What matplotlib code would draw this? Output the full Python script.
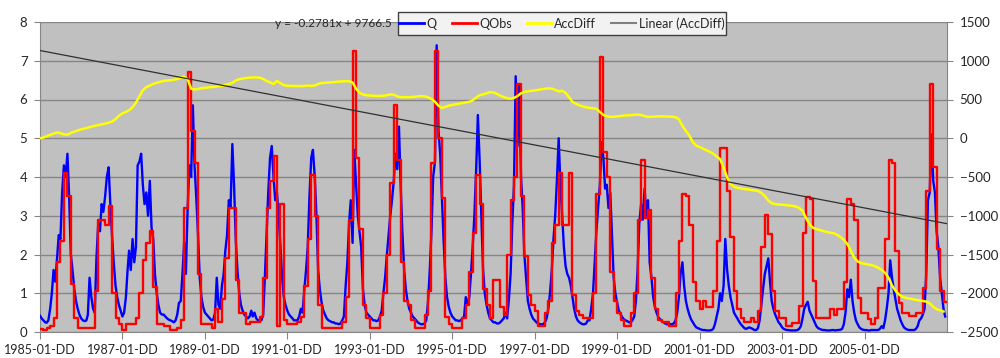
import datetime as dt
import matplotlib
matplotlib.use("Agg")
import matplotlib.pyplot as plt
import matplotlib.dates as mdates
from matplotlib.lines import Line2D
from matplotlib.patches import Rectangle

# ---------------- data ----------------
start_year = 1985
n_years = 22

# observed discharge, monthly values (one row per year)
qobs_rows = [
    [0.08, 0.05, 0.1, 0.15, 0.35, 1.8, 2.35, 4.1, 3.5, 1.25, 0.35, 0.1],
    [0.1, 0.1, 0.1, 0.1, 1.05, 2.9, 2.9, 2.75, 3.25, 1.0, 0.35, 0.2],
    [0.05, 0.2, 0.2, 0.2, 0.35, 1.0, 1.85, 2.3, 2.6, 1.15, 0.2, 0.2],
    [0.15, 0.15, 0.05, 0.05, 0.1, 0.3, 3.2, 6.7, 5.2, 4.35, 1.5, 0.2],
    [0.2, 0.2, 0.1, 0.6, 0.25, 0.85, 1.9, 3.2, 3.2, 1.35, 0.5, 0.5],
    [0.2, 0.25, 0.25, 0.25, 0.4, 1.4, 3.2, 3.9, 4.55, 0.15, 3.3, 0.3],
    [0.2, 0.2, 0.2, 0.25, 0.4, 1.2, 2.4, 4.05, 3.0, 0.7, 0.1, 0.1],
    [0.1, 0.1, 0.1, 0.1, 0.25, 0.9, 2.9, 7.25, 4.5, 2.65, 0.7, 0.35],
    [0.1, 0.1, 0.1, 0.45, 1.0, 2.0, 3.85, 5.85, 4.45, 1.8, 0.8, 0.7],
    [0.3, 0.1, 0.1, 0.1, 0.45, 1.05, 4.35, 7.25, 5.0, 3.45, 0.4, 0.2],
    [0.1, 0.1, 0.1, 0.35, 0.7, 1.55, 2.55, 4.05, 3.3, 1.1, 0.7, 0.35],
    [1.35, 1.35, 0.65, 0.45, 2.0, 3.4, 4.0, 6.4, 3.5, 1.95, 0.95, 0.7],
    [0.55, 0.15, 0.15, 0.5, 0.8, 2.3, 2.75, 4.1, 2.75, 2.75, 4.1, 0.95],
    [0.55, 0.45, 0.35, 0.35, 0.35, 1.0, 3.55, 7.1, 4.65, 4.0, 1.55, 0.8],
    [0.5, 0.3, 0.15, 0.15, 0.5, 1.0, 2.9, 4.45, 2.95, 3.15, 1.4, 0.6],
    [0.3, 0.25, 0.25, 0.15, 0.15, 1.0, 2.35, 3.55, 3.5, 2.75, 1.3, 0.8],
    [0.6, 0.8, 0.65, 0.65, 1.05, 2.35, 4.75, 4.75, 3.65, 2.45, 1.05, 0.6],
    [0.35, 0.25, 0.25, 0.35, 0.25, 0.55, 2.2, 3.03, 2.52, 1.07, 0.54, 0.37],
    [0.37, 0.15, 0.15, 0.24, 0.24, 0.67, 2.56, 3.48, 3.42, 1.31, 0.35, 0.35],
    [0.35, 0.35, 0.6, 0.45, 0.6, 0.6, 1.3, 3.42, 3.3, 2.9, 0.89, 0.5],
    [0.5, 0.33, 0.2, 0.37, 1.14, 1.14, 2.39, 4.43, 4.37, 2.09, 0.76, 0.5],
    [0.5, 0.41, 0.41, 0.5, 0.5, 1.14, 3.64, 6.39, 4.26, 2.13, 1.07, 0.78],
]

# simulated discharge, two values per month (1st and 16th)
q_rows = [
    [0.42, 0.35, 0.3, 0.25, 0.24, 0.3, 0.6, 1.0, 1.6, 1.3, 1.9, 2.5, 2.4, 3.6, 4.3, 4.0, 4.6, 3.5, 2.0, 1.6, 1.1, 0.8, 0.6, 0.45],
    [0.35, 0.3, 0.28, 0.3, 0.45, 1.4, 0.9, 0.6, 0.5, 1.9, 2.8, 2.6, 3.3, 3.1, 3.5, 4.0, 4.25, 3.3, 2.5, 1.8, 1.2, 0.9, 0.7, 0.55],
    [0.4, 0.5, 0.9, 1.6, 2.1, 1.6, 2.4, 1.8, 2.2, 4.3, 4.4, 4.6, 3.8, 3.3, 3.6, 3.0, 3.9, 2.7, 2.4, 1.5, 1.0, 0.7, 0.5, 0.45],
    [0.45, 0.4, 0.35, 0.32, 0.3, 0.28, 0.25, 0.3, 0.45, 0.75, 0.8, 1.5, 2.3, 1.5, 3.2, 4.3, 4.0, 5.85, 4.3, 3.5, 2.5, 1.4, 0.9, 0.65],
    [0.5, 0.45, 0.4, 0.35, 0.3, 0.32, 0.5, 1.4, 0.7, 0.6, 1.2, 1.5, 2.1, 2.5, 3.4, 3.2, 4.85, 3.8, 2.4, 1.6, 1.0, 0.7, 0.55, 0.45],
    [0.4, 0.35, 0.4, 0.55, 0.4, 0.5, 0.35, 0.3, 0.3, 0.3, 0.45, 1.4, 2.5, 3.6, 4.5, 4.8, 4.0, 3.4, 3.6, 3.0, 2.2, 1.4, 0.9, 0.7],
    [0.55, 0.45, 0.4, 0.35, 0.3, 0.3, 0.3, 0.4, 0.6, 0.5, 1.1, 1.6, 2.2, 3.5, 4.5, 4.7, 4.0, 3.0, 1.6, 1.1, 0.75, 0.55, 0.45, 0.35],
    [0.3, 0.28, 0.25, 0.25, 0.22, 0.22, 0.2, 0.22, 0.3, 0.4, 1.2, 1.8, 2.8, 3.4, 2.3, 4.7, 3.8, 3.0, 2.6, 2.2, 1.1, 0.7, 0.5, 0.45],
    [0.4, 0.35, 0.3, 0.3, 0.28, 0.3, 0.4, 0.55, 1.0, 1.4, 2.0, 2.5, 3.0, 3.4, 3.9, 4.6, 4.2, 5.3, 3.8, 2.6, 1.6, 1.1, 0.8, 0.6],
    [0.5, 0.4, 0.35, 0.3, 0.25, 0.22, 0.2, 0.2, 0.22, 0.3, 0.8, 1.6, 2.6, 4.0, 4.4, 7.4, 5.2, 4.6, 3.5, 2.4, 1.4, 0.9, 0.65, 0.5],
    [0.4, 0.35, 0.3, 0.3, 0.28, 0.3, 0.35, 0.4, 0.9, 0.7, 0.9, 1.5, 2.2, 3.0, 4.2, 5.6, 4.4, 3.0, 1.6, 1.0, 0.7, 0.5, 0.35, 0.3],
    [0.25, 0.25, 0.22, 0.22, 0.25, 0.3, 0.35, 0.5, 0.35, 0.8, 1.5, 2.8, 3.8, 6.6, 4.8, 6.4, 4.0, 3.2, 2.0, 1.4, 0.8, 0.6, 0.45, 0.35],
    [0.3, 0.25, 0.22, 0.2, 0.2, 0.2, 0.25, 0.35, 0.6, 1.0, 1.6, 2.4, 3.0, 3.9, 5.0, 3.8, 3.0, 2.2, 1.7, 1.5, 1.4, 1.2, 0.9, 0.6],
    [0.4, 0.3, 0.25, 0.22, 0.2, 0.2, 0.22, 0.3, 0.3, 0.6, 1.0, 1.8, 2.6, 3.2, 3.8, 4.9, 4.5, 3.7, 3.8, 3.2, 3.6, 2.5, 1.4, 1.0],
    [0.75, 0.55, 0.45, 0.38, 0.33, 0.3, 0.28, 0.25, 0.25, 0.3, 0.4, 0.8, 1.6, 2.8, 3.3, 2.9, 3.7, 3.0, 3.4, 1.8, 1.4, 0.9, 0.65, 0.5],
    [0.38, 0.33, 0.28, 0.25, 0.22, 0.2, 0.2, 0.2, 0.2, 0.22, 0.3, 0.5, 0.9, 1.5, 1.8, 1.2, 0.8, 0.6, 0.45, 0.33, 0.25, 0.18, 0.12, 0.1],
    [0.08, 0.06, 0.05, 0.05, 0.04, 0.04, 0.04, 0.05, 0.08, 0.2, 0.4, 0.6, 1.0, 0.8, 1.2, 2.4, 1.6, 1.2, 0.9, 0.7, 0.5, 0.42, 0.35, 0.27],
    [0.2, 0.15, 0.1, 0.08, 0.1, 0.12, 0.1, 0.08, 0.05, 0.05, 0.1, 0.3, 0.7, 1.1, 1.5, 1.7, 1.9, 1.3, 0.8, 0.6, 0.45, 0.35, 0.25, 0.2],
    [0.12, 0.08, 0.06, 0.05, 0.05, 0.04, 0.04, 0.04, 0.04, 0.05, 0.08, 0.15, 0.35, 0.6, 0.7, 0.78, 0.55, 0.45, 0.35, 0.25, 0.15, 0.1, 0.08, 0.06],
    [0.05, 0.05, 0.04, 0.04, 0.04, 0.05, 0.05, 0.04, 0.05, 0.05, 0.06, 0.08, 0.2, 0.5, 1.1, 0.9, 1.35, 0.8, 0.5, 0.3, 0.2, 0.12, 0.08, 0.06],
    [0.05, 0.05, 0.04, 0.04, 0.05, 0.05, 0.05, 0.05, 0.05, 0.08, 0.15, 0.1, 0.3, 0.6, 1.0, 1.85, 1.4, 1.1, 0.85, 0.6, 0.45, 0.3, 0.2, 0.12],
    [0.08, 0.06, 0.05, 0.05, 0.05, 0.05, 0.08, 0.15, 0.3, 0.35, 0.45, 0.6, 1.5, 3.4, 3.6, 5.1, 3.9, 3.6, 2.6, 2.2, 1.4, 1.0, 0.6, 0.4],
]

# accumulated difference, monthly (secondary axis)
accdiff_rows = [
    [0, 10, 25, 45, 60, 75, 65, 50, 45, 70, 85, 100],
    [115, 125, 135, 150, 160, 170, 180, 190, 200, 215, 245, 290],
    [320, 340, 360, 400, 460, 540, 620, 660, 680, 700, 715, 728],
    [740, 745, 748, 755, 765, 780, 795, 760, 640, 628, 635, 645],
    [650, 655, 660, 665, 672, 678, 690, 700, 715, 745, 762, 770],
    [778, 782, 785, 785, 782, 765, 740, 720, 700, 740, 710, 685],
    [678, 675, 674, 673, 673, 675, 680, 675, 680, 700, 712, 716],
    [720, 724, 727, 730, 734, 737, 736, 720, 640, 585, 565, 555],
    [552, 548, 546, 546, 548, 555, 565, 562, 540, 530, 530, 530],
    [530, 535, 540, 544, 540, 528, 505, 470, 420, 390, 405, 420],
    [430, 438, 445, 452, 460, 470, 490, 525, 556, 565, 580, 595],
    [590, 572, 550, 530, 518, 510, 520, 545, 580, 598, 605, 612],
    [617, 625, 632, 638, 643, 640, 625, 605, 612, 585, 530, 470],
    [445, 425, 410, 400, 392, 386, 380, 340, 300, 285, 275, 278],
    [282, 288, 292, 295, 298, 302, 306, 300, 285, 275, 278, 282],
    [283, 282, 281, 280, 278, 272, 245, 160, 95, 35, -50, -95],
    [-115, -135, -155, -175, -200, -235, -270, -380, -505, -590, -625, -640],
    [-648, -655, -660, -667, -674, -680, -705, -745, -805, -838, -850, -855],
    [-858, -861, -866, -872, -880, -900, -935, -1030, -1110, -1155, -1172, -1185],
    [-1198, -1208, -1218, -1225, -1245, -1275, -1310, -1365, -1450, -1540, -1590, -1610],
    [-1620, -1628, -1636, -1650, -1670, -1700, -1735, -1800, -1900, -1965, -2015, -2045],
    [-2060, -2068, -2076, -2085, -2092, -2100, -2108, -2130, -2175, -2205, -2220, -2235],
]

# linear trendline of AccDiff (x = Excel serial date)
trend_slope = -0.2781
trend_intercept = 9766.5
trend_label = "y = -0.2781x + 9766.5"

left_ticks = [0, 1, 2, 3, 4, 5, 6, 7, 8]
right_ticks = [-2500, -2000, -1500, -1000, -500, 0, 500, 1000, 1500]
xtick_years = [1985, 1987, 1989, 1991, 1993, 1995, 1997, 1999, 2001, 2003, 2005]
xtick_labels = [f"{y}-01-DD" for y in xtick_years]
series_labels = ["Q", "QObs", "AccDiff", "Linear (AccDiff)"]

# ---------------- build time axes ----------------
qobs = [v for row in qobs_rows for v in row]
q = [v for row in q_rows for v in row]
accdiff = [v for row in accdiff_rows for v in row]

month_dates = []
half_dates = []
for i in range(n_years * 12):
    y, m = start_year + i // 12, i % 12 + 1
    month_dates.append(dt.datetime(y, m, 1))
    half_dates.append(dt.datetime(y, m, 1))
    half_dates.append(dt.datetime(y, m, 16))
end_date = dt.datetime(start_year + n_years, 1, 1)

x_month = mdates.date2num(month_dates)
x_half = mdates.date2num(half_dates)
x0 = mdates.date2num(dt.datetime(start_year, 1, 1))
x1 = mdates.date2num(end_date)

# ---------------- figure ----------------
plt.rcParams["font.family"] = ["Lato", "DejaVu Sans"]
text_color = "#262626"
axis_color = "#868686"

fig = plt.figure(figsize=(10, 3.58), dpi=100)
ax = fig.add_axes([0.040, 1 - 332 / 358, 0.907, 310 / 358])
ax.set_facecolor("#c0c0c0")
ax.set_xlim(x0, x1)
ax.set_ylim(0, 8)
ax.set_yticks(left_ticks)
ax.yaxis.grid(True, color=axis_color, lw=1.0)
ax.set_axisbelow(True)
for s in ["top", "right"]:
    ax.spines[s].set_visible(False)
for s in ["left", "bottom"]:
    ax.spines[s].set_color(axis_color)
ax.set_xticks(mdates.date2num([dt.datetime(y, 1, 1) for y in xtick_years]))
ax.set_xticklabels(xtick_labels)
ax.tick_params(axis="y", direction="out", length=4, color=axis_color,
               labelsize=9.5, labelcolor=text_color, pad=5)
ax.tick_params(axis="x", direction="out", length=5, color=axis_color,
               labelsize=9, labelcolor=text_color, pad=4)

ax.plot(x_half, q, color="#0000ff", lw=1.7, zorder=3)
ax.plot(list(x_month) + [x1], qobs + [qobs[-1]], color="#ff0000", lw=1.7,
        drawstyle="steps-post", zorder=4)

ax2 = ax.twinx()
ax2.set_ylim(-2500, 1500)
ax2.set_yticks(right_ticks)
for s in ["top", "left", "bottom"]:
    ax2.spines[s].set_visible(False)
ax2.spines["right"].set_color(axis_color)
ax2.tick_params(axis="y", direction="out", length=4, color=axis_color,
                labelsize=9.5, labelcolor=text_color, pad=5)

ax2.plot(x_month, accdiff, color="#ffff00", lw=1.8, zorder=3)
excel_offset = 25569  # Excel serial of 1970-01-01
tx = [x0, x1]
ty = [trend_slope * (v + excel_offset) + trend_intercept for v in tx]
ax2.plot(tx, ty, color="#303030", lw=0.9, zorder=4)

# trendline equation
fig.text(0.392, 1 - 23.5 / 358, trend_label, ha="right", va="center",
         fontsize=8.6, color=text_color)

# legend box
fig.patches.append(Rectangle((397.7 / 1000, 1 - 35 / 358), 328.3 / 1000, 22.7 / 358,
                             transform=fig.transFigure, facecolor="#f2f2f2",
                             edgecolor="#404040", lw=1.0, zorder=10))
handles = [Line2D([], [], color="#0000ff", lw=2),
           Line2D([], [], color="#ff0000", lw=2),
           Line2D([], [], color="#ffff00", lw=2),
           Line2D([], [], color="#808080", lw=1.5)]
leg = fig.legend(handles, series_labels, loc="center",
                 bbox_to_anchor=(0.5619, 1 - 23.6 / 358), ncol=4, frameon=False,
                 fontsize=9, handlelength=2.0, handletextpad=0.2,
                 columnspacing=1.2, borderpad=0.2)
leg.set_zorder(11)
for t in leg.get_texts():
    t.set_color(text_color)

fig.savefig("out.png", dpi=100, facecolor="white")
